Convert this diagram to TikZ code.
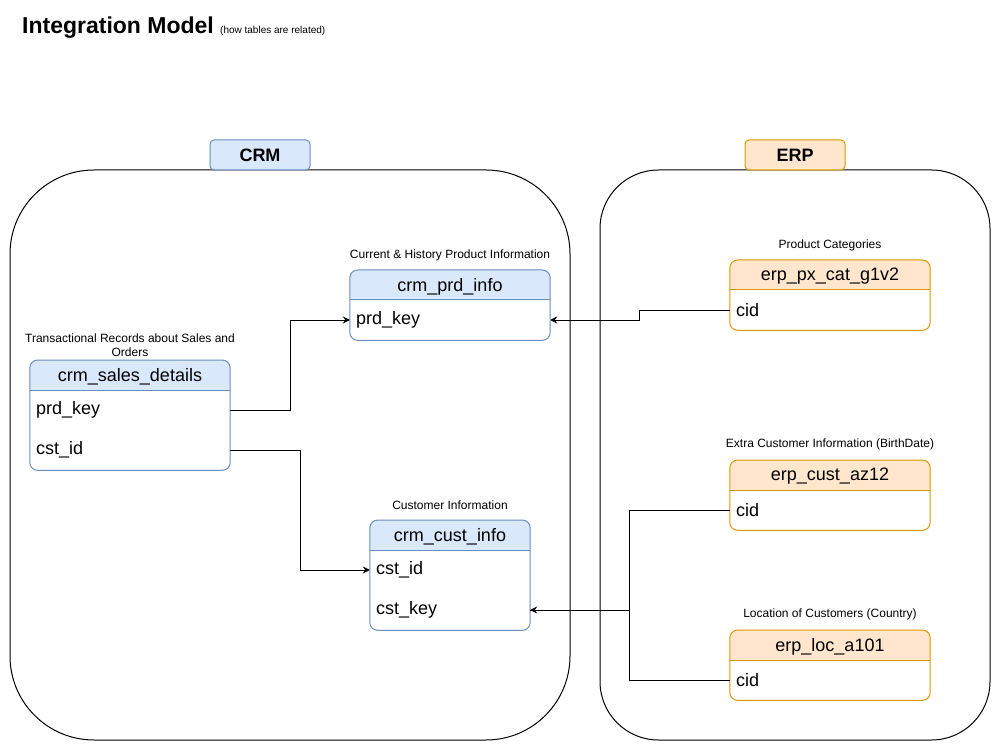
\documentclass[tikz,border=0pt]{standalone}
\usepackage{fontspec}
\setmainfont{Liberation Sans}
\usetikzlibrary{arrows.meta}
\definecolor{crmfill}{HTML}{DAE8FC}
\definecolor{crmstroke}{HTML}{6C8EBF}
\definecolor{erpfill}{HTML}{FFE6CC}
\definecolor{erpstroke}{HTML}{D79B00}
\tikzset{
  container/.style={draw=black, line width=1pt, fill=white, inner sep=0},
  grpbox/.style={line width=1pt, rounded corners=4pt, minimum width=100, minimum height=30, inner sep=0, font=\bfseries\fontsize{18}{21}\selectfont},
  tblbody/.style={fill=white, inner sep=0, rounded corners=8pt},
  hdrtext/.style={inner sep=0, font=\fontsize{18}{21}\selectfont},
  rowcell/.style={text width=#1, inner xsep=6pt, inner ysep=0, minimum height=40, align=left, font=\fontsize{18}{21}\selectfont},
  lbl/.style={inner sep=0, align=center, font=\fontsize{12}{14}\selectfont},
  conn/.style={line width=1pt, -{Stealth[length=7pt,width=7pt,inset=2.5pt]}},
  plainconn/.style={line width=1pt}
}
\newcommand\mktable[8]{%
  \node[tblbody, minimum width=#4, minimum height=#5, anchor=north] (#1) at (#2,#3) {};
  \begin{scope}
    \clip (#1.north west) rectangle ([yshift=-30pt]#1.north east);
    \fill[#6, rounded corners=8pt] (#1.north west) rectangle (#1.south east);
  \end{scope}
  \draw[#7, line width=1pt] ([yshift=-30pt]#1.north west) -- ([yshift=-30pt]#1.north east);
  \draw[#7, line width=1pt, rounded corners=8pt] (#1.north west) rectangle (#1.south east);
  \node[hdrtext] (#1h) at ([yshift=-16.5pt]#1.north) {#8};
}
\begin{document}
\begin{tikzpicture}[x=1pt,y=-1pt]
\useasboundingbox[fill=white] (0,0) rectangle (1001,751);
% title
\node[anchor=base west, inner sep=0, font=\bfseries\fontsize{23}{27}\selectfont] (title) at (22,34) {Integration Model};
\node[anchor=base west, inner sep=0, font=\fontsize{10}{12}\selectfont] (subtitle) at (220,34) {(how tables are related)};
% containers
\node[container, minimum width=560, minimum height=570, rounded corners=84pt] (crm) at (290,455) {};
\node[container, minimum width=390, minimum height=570, rounded corners=58.5pt] (erp) at (795,455) {};
\node[grpbox, fill=crmfill, draw=crmstroke] (crmlbl) at (260,155) {CRM};
\node[grpbox, fill=erpfill, draw=erpstroke] (erplbl) at (795,155) {ERP};
% tables
\mktable{prd}{450}{270}{200}{70}{crmfill}{crmstroke}{crm\_prd\_info}
\mktable{sales}{130}{360}{200}{110}{crmfill}{crmstroke}{crm\_sales\_details}
\mktable{cust}{450}{520}{160}{110}{crmfill}{crmstroke}{crm\_cust\_info}
\mktable{pxcat}{830}{260}{200}{70}{erpfill}{erpstroke}{erp\_px\_cat\_g1v2}
\mktable{az}{830}{460}{200}{70}{erpfill}{erpstroke}{erp\_cust\_az12}
\mktable{loc}{830}{630}{200}{70}{erpfill}{erpstroke}{erp\_loc\_a101}
% rows
\node[rowcell=188] (prdKey) at ([yshift=-50pt]prd.north) {\raisebox{-1.5pt}{prd\_key}};
\node[rowcell=188] (salesPrd) at ([yshift=-50pt]sales.north) {\raisebox{-1.5pt}{prd\_key}};
\node[rowcell=188] (salesCst) at ([yshift=-90pt]sales.north) {\raisebox{-1.5pt}{cst\_id}};
\node[rowcell=148] (custId) at ([yshift=-50pt]cust.north) {\raisebox{-1.5pt}{cst\_id}};
\node[rowcell=148] (custKey) at ([yshift=-90pt]cust.north) {\raisebox{-1.5pt}{cst\_key}};
\node[rowcell=188] (pxCid) at ([yshift=-50pt]pxcat.north) {\raisebox{-1.5pt}{cid}};
\node[rowcell=188] (azCid) at ([yshift=-50pt]az.north) {\raisebox{-1.5pt}{cid}};
\node[rowcell=188] (locCid) at ([yshift=-50pt]loc.north) {\raisebox{-1.5pt}{cid}};
% labels
\node[lbl] (prdT) at ([yshift=14.5pt]prd.north) {Current \& History Product Information};
\node[lbl] (salesT) at ([yshift=14.5pt]sales.north) {Transactional Records about Sales and\\Orders};
\node[lbl] (custT) at ([yshift=14.5pt]cust.north) {Customer Information};
\node[lbl] (pxT) at ([yshift=14.5pt]pxcat.north) {Product Categories};
\node[lbl] (azT) at ([yshift=15.5pt]az.north) {Extra Customer Information (BirthDate)};
\node[lbl] (locT) at ([yshift=15.5pt]loc.north) {Location of Customers (Country)};
% connectors
\draw[conn] (salesPrd.east) -- ++(60,0) |- (prdKey.west);
\draw[conn] (salesCst.east) -- ++(70,0) |- (custId.west);
\draw[conn] (pxCid.west) -- ++(-90,0) |- (prdKey.east);
\draw[conn] (azCid.west) -- ++(-100,0) |- (custKey.east);
\draw[plainconn] (locCid.west) -- ++(-100,0) |- (custKey.east);
\end{tikzpicture}
\end{document}
